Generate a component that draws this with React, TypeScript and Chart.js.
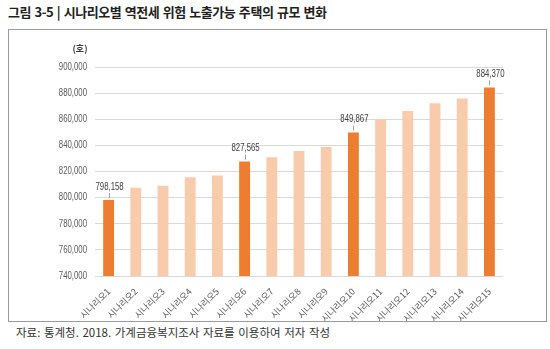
import React, { useEffect, useRef } from "react";
import { Chart, registerables } from "chart.js";
Chart.register(...registerables);

const categories = [
  "시나리오1", "시나리오2", "시나리오3", "시나리오4", "시나리오5",
  "시나리오6", "시나리오7", "시나리오8", "시나리오9", "시나리오10",
  "시나리오11", "시나리오12", "시나리오13", "시나리오14", "시나리오15",
];
const values = [
  798158, 807500, 809000, 815600, 817000,
  827565, 831000, 835600, 838700, 849867,
  860000, 866400, 872300, 875900, 884370,
];
const highlighted = [0, 5, 9, 14];
const yMin = 740000;
const yMax = 900000;
const yStep = 20000;
const titleText = "그림 3-5 | 시나리오별 역전세 위험 노출가능 주택의 규모 변화";
const unitText = "(호)";
const sourceText = "자료: 통계청. 2018. 가계금융복지조사 자료를 이용하여 저자 작성";

const DARK = "#ED7D31";
const LIGHT = "#F8CBAD";
const NUM_FONT = "'Liberation Sans', Arial, sans-serif";
const KR_FONT = "'Noto Sans CJK KR', 'Noto Sans', sans-serif";
const SQUEEZE = 0.78;

const fmt = (v: number) => v.toLocaleString("en-US");

const labelPlugin = {
  id: "valueLabels",
  afterDraw(chart: any) {
    const ctx = chart.ctx;
    const meta = chart.getDatasetMeta(0);
    ctx.save();
    highlighted.forEach((i) => {
      const el = meta.data[i];
      if (!el) return;
      const x = el.x;
      const y = el.y;
      ctx.strokeStyle = "#a0a0a0";
      ctx.lineWidth = 1;
      ctx.beginPath();
      ctx.moveTo(Math.round(x) + 0.5, y - 2);
      ctx.lineTo(Math.round(x) + 0.5, y - 7);
      ctx.stroke();
      ctx.save();
      ctx.translate(x + 1, y - 13);
      ctx.scale(SQUEEZE, 1);
      ctx.fillStyle = "#404040";
      ctx.font = `10px ${NUM_FONT}`;
      ctx.textAlign = "center";
      ctx.textBaseline = "middle";
      ctx.fillText(fmt(values[i]), 0, 0);
      ctx.restore();
    });
    // y tick labels (condensed)
    const ya = chart.scales.y;
    ya.ticks.forEach((t: any) => {
      const py = ya.getPixelForValue(t.value);
      ctx.save();
      ctx.translate(ya.right - 8, py);
      ctx.scale(SQUEEZE, 1);
      ctx.fillStyle = "#595959";
      ctx.font = `10px ${NUM_FONT}`;
      ctx.textAlign = "right";
      ctx.textBaseline = "middle";
      ctx.fillText(fmt(t.value), 0, 0);
      ctx.restore();
    });
    // unit label
    ctx.fillStyle = "#404040";
    ctx.font = `bold 9px ${KR_FONT}`;
    ctx.textAlign = "center";
    ctx.textBaseline = "middle";
    ctx.fillText(unitText, ya.right - 15, ya.top - 18);
    ctx.restore();
  },
};

export default function App() {
  const ref = useRef<HTMLCanvasElement | null>(null);
  useEffect(() => {
    if (!ref.current) return;
    const chart = new Chart(ref.current, {
      type: "bar",
      data: {
        labels: categories,
        datasets: [
          {
            data: values,
            backgroundColor: values.map((_, i) => (highlighted.includes(i) ? DARK : LIGHT)),
            barPercentage: 0.4,
            categoryPercentage: 1,
          },
        ],
      },
      options: {
        animation: false,
        responsive: true,
        maintainAspectRatio: false,
        layout: { padding: { top: 37, right: 43, left: 0, bottom: 0 } },
        plugins: { legend: { display: false }, tooltip: { enabled: false } },
        scales: {
          x: {
            grid: { display: false },
            border: { display: false },
            ticks: {
              color: "#595959",
              font: { size: 9, family: KR_FONT },
              minRotation: 45,
              maxRotation: 45,
              autoSkip: false,
              padding: 2,
            },
            afterFit(scale: any) {
              scale.height = 45;
            },
          },
          y: {
            min: yMin,
            max: yMax,
            grid: { color: "#d9d9d9", drawTicks: false },
            border: { display: false },
            ticks: {
              stepSize: yStep,
              color: "rgba(0,0,0,0)",
              font: { size: 10, family: NUM_FONT },
              padding: 8,
              callback: (v: any) => fmt(Number(v)),
            },
            afterFit(scale: any) {
              scale.width = 86;
            },
          },
        },
      },
      plugins: [labelPlugin],
    });
    return () => chart.destroy();
  }, []);

  return (
    <div style={{ position: "fixed", left: 0, top: 0, width: 550, height: 349, background: "#fff", overflow: "hidden" }}>
      <div
        style={{
          position: "absolute",
          left: 8,
          top: 2,
          fontFamily: KR_FONT,
          fontWeight: 700,
          fontSize: 13,
          letterSpacing: -0.45,
          wordSpacing: 1,
          color: "#231f20",
          whiteSpace: "nowrap",
        }}
      >
        {titleText}
      </div>
      <div
        style={{
          position: "absolute",
          left: 8,
          top: 29,
          width: 537,
          height: 291,
          border: "1px solid #9a9a9a",
        }}
      >
        <div style={{ position: "relative", width: 537, height: 291 }}>
          <canvas ref={ref} />
        </div>
      </div>
      <div
        style={{
          position: "absolute",
          left: 16,
          top: 324,
          fontFamily: KR_FONT,
          fontSize: 11.5,
          letterSpacing: 0,
          wordSpacing: 1,
          color: "#333",
          whiteSpace: "nowrap",
        }}
      >
        {sourceText}
      </div>
    </div>
  );
}
